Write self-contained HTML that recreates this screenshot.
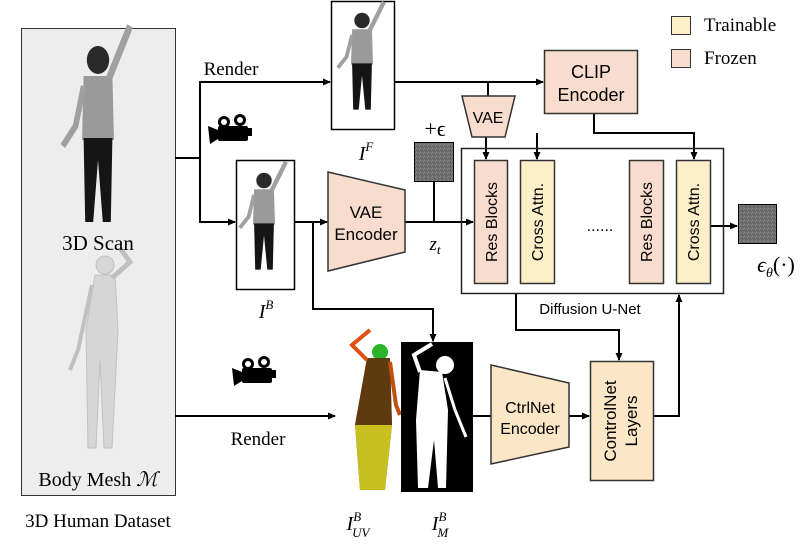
<!DOCTYPE html>
<html><head><meta charset="utf-8"><style>
html,body{margin:0;padding:0;background:#fff;}
svg{display:block;}
.s{font-family:"Liberation Sans",sans-serif;}
.r{font-family:"Liberation Serif",serif;}
</style></head><body>
<svg width="800" height="548" viewBox="0 0 800 548" xmlns="http://www.w3.org/2000/svg">
<defs>
<marker id="a" markerWidth="8" markerHeight="8" refX="7" refY="4" orient="auto" markerUnits="userSpaceOnUse"><path d="M0,0.5 L8,4 L0,7.5z" fill="#000"/></marker>
<pattern id="n" width="4" height="4" patternUnits="userSpaceOnUse"><rect width="4" height="4" fill="#6e6e6e"/><rect width="1" height="1" fill="#8a8a8a"/><rect x="2" y="2" width="1" height="1" fill="#555"/><rect x="3" y="1" width="1" height="1" fill="#909090"/></pattern>
<g id="person">
<circle cx="0" cy="-45" r="7" fill="#2a2a2a"/>
<path d="M-9,-37 L9,-37 L10,-5 L-10,-5z" fill="#9a9a9a"/>
<path d="M7,-36 L14,-50 L20,-62" stroke="#a0a0a0" stroke-width="4" fill="none"/>
<path d="M-9,-32 L-14,-12 L-22,-2" stroke="#a0a0a0" stroke-width="3.5" fill="none"/>
<path d="M-9,-6 L9,-6 L8,36 L3,36 L0,5 L-3,36 L-8,36z" fill="#151515"/>
</g>
</defs>

<rect x="21.5" y="28.5" width="154" height="467" fill="#ededed" stroke="#333" stroke-width="1"/>
<use href="#person" transform="translate(98,150) scale(1.6,2.0)"/>
<g fill="#d6d6d6" stroke="#c0c0c0">
<circle cx="105" cy="265" r="9"/>
<path d="M95,275 L115,275 L118,330 L112,448 L104,448 L100,360 L96,448 L88,448 L86,330z"/>
<path d="M112,278 L130,262 L120,248" fill="none" stroke-width="5"/>
<path d="M92,285 L78,350 L70,370" fill="none" stroke-width="4"/>
</g>
<text x="98" y="250" text-anchor="middle" class="r" font-size="21">3D Scan</text>
<text x="98" y="486" text-anchor="middle" class="r" font-size="20">Body Mesh <tspan font-style="italic">ℳ</tspan></text>
<text x="98" y="527" text-anchor="middle" class="r" font-size="19">3D Human Dataset</text>

<g stroke="#000" stroke-width="2" fill="none">
<path d="M175,158 H200 V82 H330" marker-end="url(#a)"/>
<path d="M200,158 V222 H235" marker-end="url(#a)"/>
<path d="M395,82 H543" marker-end="url(#a)"/>
<path d="M488,82 V96"/>
<path d="M486,137 V159" marker-end="url(#a)"/>
<path d="M295,222 H327" marker-end="url(#a)"/>
<path d="M405,222 H473" marker-end="url(#a)"/>
<path d="M434,181 V222"/>
<path d="M594,113 V133 H694 V159" marker-end="url(#a)"/>
<path d="M537,133 V159" marker-end="url(#a)"/>
<path d="M710,226 H737" marker-end="url(#a)"/>
<path d="M313,222 V309 H433 V341" marker-end="url(#a)"/>
<path d="M516,294 V330 H619 V360" marker-end="url(#a)"/>
<path d="M653,416 H679 V295" marker-end="url(#a)"/>
<path d="M175,416 H335" marker-end="url(#a)"/>
<path d="M473,416 H491"/>
<path d="M569,416 H589" marker-end="url(#a)"/>
</g>
<text x="231" y="75" text-anchor="middle" class="r" font-size="19">Render</text>
<text x="258" y="445" text-anchor="middle" class="r" font-size="19">Render</text>

<g fill="#000">
<circle cx="224" cy="122" r="6"/><circle cx="240" cy="120" r="6"/>
<rect x="218" y="126" width="30" height="15" rx="2"/><path d="M218,130 L208,126 L210,144 L218,139z"/><rect x="248" y="128" width="4" height="8"/>
<circle cx="248" cy="364" r="6"/><circle cx="264" cy="362" r="6"/>
<rect x="242" y="368" width="30" height="15" rx="2"/><path d="M242,372 L232,368 L234,386 L242,381z"/><rect x="272" y="370" width="4" height="8"/>
</g>
<g fill="#fff"><circle cx="224" cy="122" r="3"/><circle cx="240" cy="120" r="3"/><circle cx="248" cy="364" r="3"/><circle cx="264" cy="362" r="3"/></g>

<rect x="331.5" y="1.5" width="63" height="128" fill="#fff" stroke="#000" stroke-width="1.5"/>
<use href="#person" transform="translate(362,70) scale(1.1)"/>
<text x="366" y="160" text-anchor="middle" class="r" font-style="italic" font-size="20">I<tspan dy="-9" font-size="13">F</tspan></text>
<rect x="236.5" y="160.5" width="58" height="129" fill="#fff" stroke="#000" stroke-width="1.5"/>
<use href="#person" transform="translate(264,230) scale(1.1)"/>
<text x="266" y="318" text-anchor="middle" class="r" font-style="italic" font-size="20">I<tspan dy="-9" font-size="13">B</tspan></text>

<path d="M328,172 L405,190 L405,252 L328,271z" fill="#f8dccd" stroke="#333" stroke-width="1.5"/>
<text x="366" y="218" text-anchor="middle" class="s" font-size="17">VAE</text>
<text x="366" y="240" text-anchor="middle" class="s" font-size="17">Encoder</text>
<rect x="414.5" y="142.5" width="39" height="39" fill="url(#n)" stroke="#000"/>
<text x="435" y="136" text-anchor="middle" class="r" font-size="22">+ϵ</text>
<text x="435" y="250" text-anchor="middle" class="r" font-style="italic" font-size="19">z<tspan dy="4" font-size="13">t</tspan></text>

<path d="M462,96 L515,96 L505,137 L472,137z" fill="#f8dccd" stroke="#333" stroke-width="1.5"/>
<text x="488" y="123" text-anchor="middle" class="s" font-size="16">VAE</text>

<rect x="544.5" y="50.5" width="93" height="63" fill="#f8dccd" stroke="#333" stroke-width="1.5"/>
<text x="591" y="78" text-anchor="middle" class="s" font-size="18">CLIP</text>
<text x="591" y="101" text-anchor="middle" class="s" font-size="18">Encoder</text>

<rect x="671.5" y="16.5" width="19" height="18" fill="#fdefc8" stroke="#333"/>
<text x="704" y="31" class="r" font-size="19">Trainable</text>
<rect x="671.5" y="49.5" width="19" height="18" fill="#f8dccd" stroke="#333"/>
<text x="704" y="64" class="r" font-size="19">Frozen</text>

<rect x="461.5" y="148.5" width="262" height="145" fill="none" stroke="#222" stroke-width="1.5"/>
<rect x="474.5" y="160.5" width="33" height="123" fill="#f8dccd" stroke="#333" stroke-width="1.5"/>
<rect x="520.5" y="160.5" width="34" height="123" fill="#fdefc8" stroke="#333" stroke-width="1.5"/>
<rect x="629.5" y="160.5" width="34" height="123" fill="#f8dccd" stroke="#333" stroke-width="1.5"/>
<rect x="676.5" y="160.5" width="34" height="123" fill="#fdefc8" stroke="#333" stroke-width="1.5"/>
<g class="s" font-size="16" text-anchor="middle">
<text transform="translate(497,222) rotate(-90)">Res Blocks</text>
<text transform="translate(543,222) rotate(-90)">Cross Attn.</text>
<text transform="translate(652,222) rotate(-90)">Res Blocks</text>
<text transform="translate(699,222) rotate(-90)">Cross Attn.</text>
</g>
<text x="600" y="231" text-anchor="middle" class="s" font-size="16">......</text>
<text x="590" y="314" text-anchor="middle" class="s" font-size="15">Diffusion U-Net</text>
<rect x="738.5" y="204.5" width="38" height="39" fill="url(#n)" stroke="#000"/>
<text x="776" y="272" text-anchor="middle" class="r" font-size="22"><tspan font-style="italic">ϵ<tspan dy="5" font-size="14">θ</tspan></tspan><tspan dy="-5">(·)</tspan></text>

<g>
<circle cx="380" cy="352" r="8" fill="#2bb52b"/>
<path d="M367,358 L390,358 L392,425 L385,490 L378,490 L375,430 L368,490 L360,490 L355,425z" fill="#8a5a10"/>
<path d="M367,358 L390,358 L392,425 L355,425z" fill="#5e3a10"/>
<path d="M355,425 L392,425 L385,490 L360,490z" fill="#c8c020"/>
<path d="M367,360 L352,345 L370,330" stroke="#e05010" stroke-width="4" fill="none"/>
<path d="M390,362 L396,405 L400,415" stroke="#c05010" stroke-width="4" fill="none"/>
</g>
<rect x="401" y="342" width="72" height="150" fill="#000"/>
<g fill="#fff">
<circle cx="445" cy="365" r="9"/>
<path d="M420,370 L442,372 L448,410 L446,488 L438,488 L434,440 L428,488 L418,488 L416,420z"/>
<path d="M420,372 L414,355 L432,344" stroke="#fff" stroke-width="4" fill="none"/>
<path d="M445,378 L455,410 L466,437" stroke="#fff" stroke-width="3" fill="none"/>
</g>
<text x="358" y="530" text-anchor="middle" class="r" font-style="italic" font-size="20">I<tspan dy="-9" font-size="13">B</tspan><tspan dx="-9" dy="16" font-size="13">UV</tspan></text>
<text x="440" y="530" text-anchor="middle" class="r" font-style="italic" font-size="20">I<tspan dy="-9" font-size="13">B</tspan><tspan dx="-9" dy="16" font-size="13">M</tspan></text>

<path d="M491,365 L569,383 L569,447 L491,464z" fill="#fbe6c5" stroke="#333" stroke-width="1.5"/>
<text x="530" y="413" text-anchor="middle" class="s" font-size="16">CtrlNet</text>
<text x="530" y="434" text-anchor="middle" class="s" font-size="16">Encoder</text>
<rect x="590.5" y="361.5" width="63" height="119" fill="#fbe6c5" stroke="#333" stroke-width="1.5"/>
<g class="s" font-size="17" text-anchor="middle">
<text transform="translate(616,421) rotate(-90)">ControlNet</text>
<text transform="translate(637,421) rotate(-90)">Layers</text>
</g>
</svg>
</body></html>
